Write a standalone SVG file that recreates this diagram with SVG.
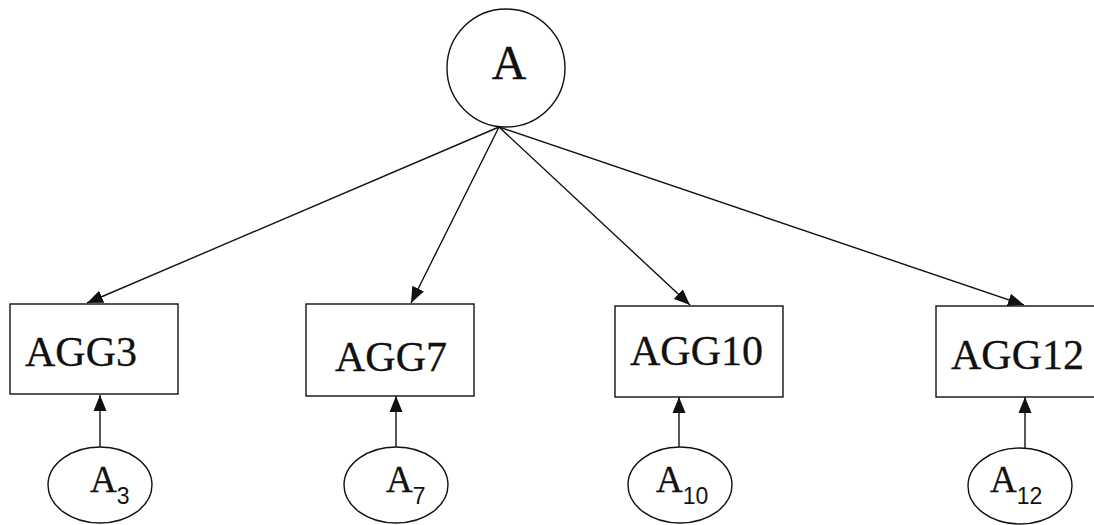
<svg xmlns="http://www.w3.org/2000/svg" width="1094" height="525" viewBox="0 0 1094 525">
<style>
.shape{fill:#fff;stroke:#111;stroke-width:1.4}
.edge{fill:none;stroke:#111;stroke-width:1.4}
.lbl{font-family:"Liberation Serif","Times New Roman",serif;fill:#111;stroke:#111;stroke-width:0.3}
.big{font-size:42px}
.top{font-size:48px}
.var{font-size:37px}
.sub{font-family:"Liberation Sans",Arial,sans-serif;font-size:23px;fill:#111;stroke-width:0}
</style>
<defs>
<marker id="arr" markerUnits="userSpaceOnUse" markerWidth="18" markerHeight="14" refX="16" refY="6.5" orient="auto" viewBox="0 0 18 13">
<path d="M0,0 L16,6.5 L0,13 Z" fill="#111"/>
</marker>
</defs>
<rect width="1094" height="525" fill="#fff"/>
<g id="connectors">
<line class="edge" x1="499" y1="127" x2="87" y2="303" marker-end="url(#arr)"/>
<line class="edge" x1="499" y1="127" x2="411" y2="303" marker-end="url(#arr)"/>
<line class="edge" x1="499" y1="127" x2="690" y2="305" marker-end="url(#arr)"/>
<line class="edge" x1="499" y1="127" x2="1024" y2="305" marker-end="url(#arr)"/>
<line class="edge" x1="100" y1="447" x2="100" y2="395" marker-end="url(#arr)"/>
<line class="edge" x1="396" y1="447" x2="396" y2="396" marker-end="url(#arr)"/>
<line class="edge" x1="679" y1="448" x2="679" y2="397" marker-end="url(#arr)"/>
<line class="edge" x1="1025" y1="448" x2="1025" y2="397" marker-end="url(#arr)"/>
</g>
<g id="node-A">
<circle class="shape" cx="506" cy="68" r="59"/>
<text class="lbl top" x="509" y="79" text-anchor="middle">A</text>
</g>
<g id="node-AGG3">
<rect class="shape" x="10" y="304" width="168" height="90"/>
<text class="lbl big" x="25" y="366">AGG3</text>
</g>
<g id="node-AGG7">
<rect class="shape" x="306" y="304" width="168" height="92"/>
<text class="lbl big" x="335" y="371">AGG7</text>
</g>
<g id="node-AGG10">
<rect class="shape" x="615" y="306" width="168" height="91"/>
<text class="lbl big" x="630" y="365">AGG10</text>
</g>
<g id="node-AGG12">
<rect class="shape" x="936" y="306" width="170" height="91"/>
<text class="lbl big" x="951" y="369">AGG12</text>
</g>
<g id="node-A3">
<ellipse class="shape" cx="100" cy="485" rx="52" ry="38"/>
<text class="lbl var" x="90" y="492">A<tspan class="sub" y="504">3</tspan></text>
</g>
<g id="node-A7">
<ellipse class="shape" cx="396" cy="485" rx="52" ry="38"/>
<text class="lbl var" x="386" y="492">A<tspan class="sub" y="504">7</tspan></text>
</g>
<g id="node-A10">
<ellipse class="shape" cx="680" cy="485" rx="52" ry="38"/>
<text class="lbl var" x="656" y="492">A<tspan class="sub" y="504">10</tspan></text>
</g>
<g id="node-A12">
<ellipse class="shape" cx="1020" cy="486" rx="52" ry="38"/>
<text class="lbl var" x="990" y="492">A<tspan class="sub" y="504">12</tspan></text>
</g>
</svg>
